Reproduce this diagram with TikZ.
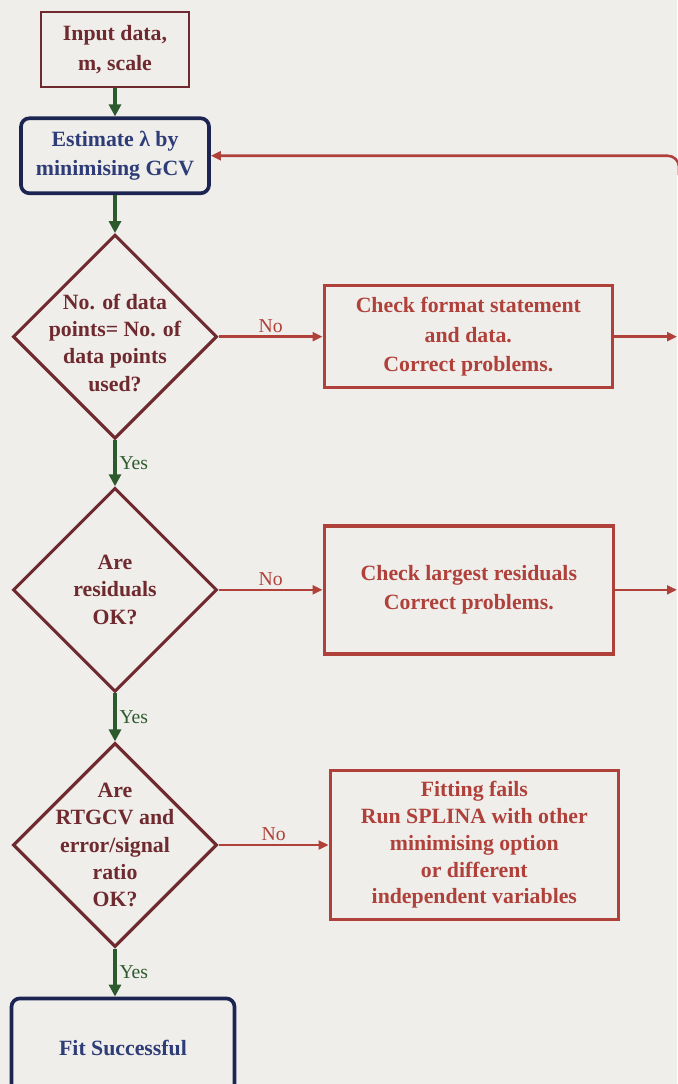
\documentclass[tikz,border=0pt]{standalone}
\usepackage{fontspec}
\setmainfont{Liberation Serif}
\usetikzlibrary{arrows.meta, positioning, shapes.geometric}
\definecolor{PaperGrey}{HTML}{EFEEEB}
\definecolor{DeepMaroon}{HTML}{6E2A2E}
\definecolor{FlowRed}{HTML}{B0413A}
\definecolor{FlowGreen}{HTML}{2D5A2D}
\definecolor{DeepNavy}{HTML}{1C2452}
\definecolor{NavyText}{HTML}{2E3C78}

\begin{document}
\begin{tikzpicture}[x=0.025cm, y=-0.025cm,
      node distance=8mm,
      base/.style={line width=2pt, align=center, font=\fontsize{15.5}{21}\selectfont\bfseries},
      inbox/.style={base, draw=DeepMaroon, text=DeepMaroon, minimum width=3.7cm, minimum height=1.875cm},
      navybox/.style={base, draw=DeepNavy, text=NavyText, line width=2.6pt, rounded corners=6pt},
      decision/.style={diamond, draw=DeepMaroon, line width=2.2pt, minimum width=5.1cm, minimum height=5.1cm, inner sep=0pt},
      dtext/.style={align=center, text=DeepMaroon, font=\fontsize{15.5}{19.5}\selectfont\bfseries},
      fixbox/.style={base, draw=FlowRed, text=FlowRed, line width=2.4pt, minimum width=7.2cm},
      go/.style={-{Triangle[length=3mm, width=3mm]}, line width=2.4pt, draw=FlowGreen},
      back/.style={-{Triangle[length=2.5mm, width=2.2mm]}, line width=1.8pt, draw=FlowRed},
      lbl/.style={font=\fontsize{14}{16}\selectfont, inner sep=2pt}]
    \useasboundingbox[fill=PaperGrey] (0,0) rectangle (677,1084);
    \node[inbox] (input) at (115,49.5) {Input data,\\m, scale};
    \node[navybox, below=7mm of input, minimum width=4.7cm, minimum height=1.875cm] (gcv) {Estimate λ by\\minimising GCV};
    \node[decision, below=9.5mm of gcv] (usedq) {};
    \node[dtext] (usedqt) at ([yshift=-1.5mm]usedq) {No. of data\\points= No. of\\data points\\used?};
    \node[decision, below=11.5mm of usedq] (resq) {};
    \node[dtext] (resqt) at (resq) {Are\\residuals\\OK?};
    \node[decision, below=12mm of resq] (fitq) {};
    \node[dtext] (fitqt) at (fitq) {Are\\RTGCV and\\error/signal\\ratio\\OK?};
    \node[navybox, below=12mm of fitq, xshift=2mm, minimum width=5.575cm, minimum height=2.475cm] (fitok) {Fit Successful};
    \node[fixbox, right=26mm of usedq, minimum height=2.55cm] (fmt) {Check format statement\\and data.\\Correct problems.};
    \node[fixbox, right=26mm of resq, minimum width=7.225cm, minimum height=3.2cm] (resfix) {Check largest residuals\\Correct problems.};
    \node[fixbox, right=27.5mm of fitq, minimum height=3.725cm, font=\fontsize{15.5}{19}\selectfont\bfseries] (fail) {Fitting fails\\Run SPLINA with other\\minimising option\\or different\\independent variables};
    \coordinate (redge) at (677,0);
    \coordinate (out1) at (fmt.east -| redge);
    \coordinate (out2) at (resfix.east -| redge);
    \coordinate (loop) at (679,175);
    \draw[go] (input) -- (gcv);
    \draw[go] (gcv) -- (usedq);
    \draw[go] (usedq) -- node[lbl, right, text=FlowGreen] {Yes} (resq);
    \draw[go] (resq) -- node[lbl, right, text=FlowGreen] {Yes} (fitq);
    \draw[go] (fitq.south) -- node[lbl, right, text=FlowGreen] {Yes} (fitq.south |- fitok.north);
    \draw[back] (usedq.east) -- node[lbl, above, text=FlowRed] {No} (usedq.east -| fmt.west);
    \draw[back] (resq.east) -- node[lbl, above, text=FlowRed] {No} (resq.east -| resfix.west);
    \draw[back] (fitq.east) -- node[lbl, above, text=FlowRed] {No} (fitq.east -| fail.west);
    \draw[back] (fmt) -- (out1);
    \draw[back] (resfix) -- (out2);
    \draw[back, rounded corners=8pt] (loop) |- (gcv);
  \end{tikzpicture}
\end{document}
